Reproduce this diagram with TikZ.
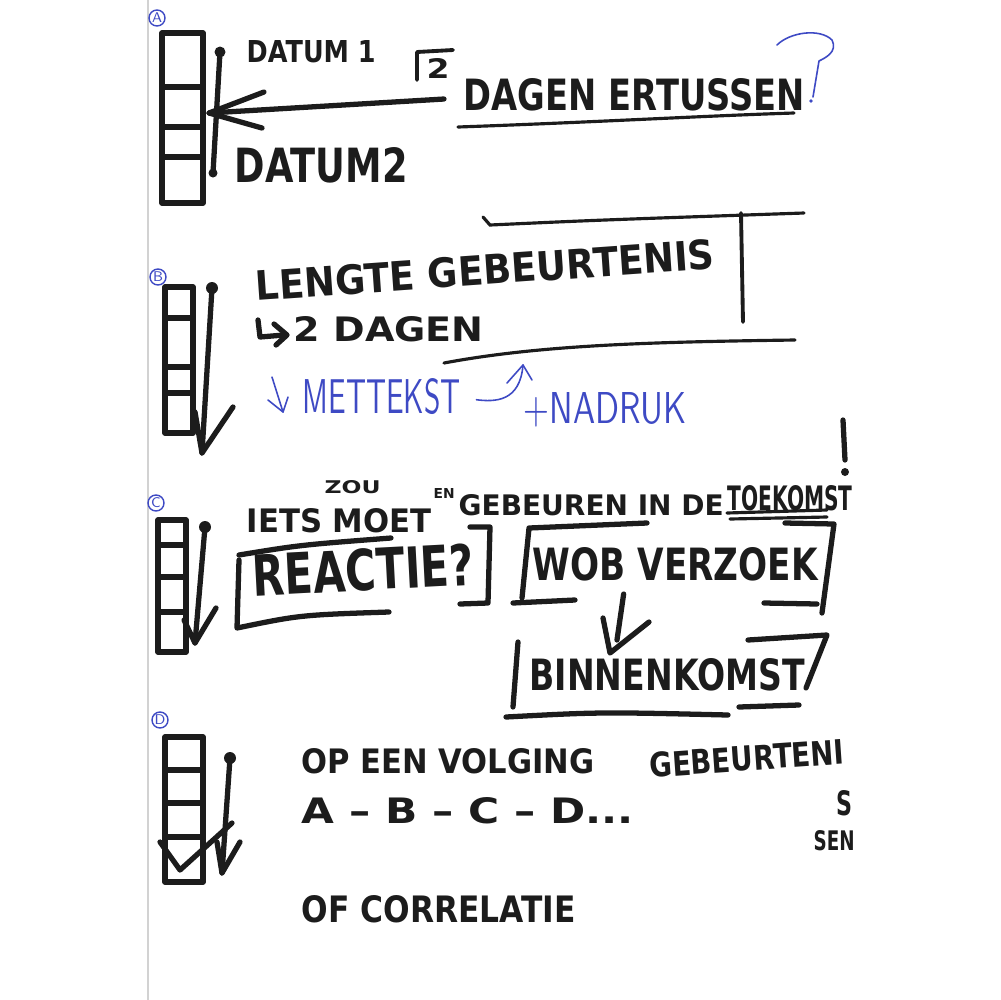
\documentclass[tikz,border=0pt]{standalone}
\usepackage{fontspec}
\setmainfont{DejaVu Sans}
\usepackage{graphicx}
\usetikzlibrary{calc}
\definecolor{marker}{RGB}{28,28,28}
\definecolor{ink}{RGB}{62,74,196}
\newlength{\pxl}
\setlength{\pxl}{0.1mm}
\newcommand{\fitbox}[3]{\resizebox{#1\pxl}{#2\pxl}{#3}}

\begin{document}
\begin{tikzpicture}[x=0.1mm, y=-0.1mm,
  pen/.style={draw=marker, line width=1.5pt, line cap=round, line join=round},
  thinpen/.style={draw=marker, line width=0.9pt, line cap=round},
  biro/.style={draw=ink, line width=0.45pt, line cap=round, line join=round},
  txt/.style={inner sep=0pt, anchor=north west, text=marker, font=\bfseries},
  note/.style={inner sep=0pt, anchor=north west, text=ink, font=\sffamily},
  sec/.style={circle, draw=ink, text=ink, line width=0.4pt, inner sep=0pt,
    minimum size=1.6mm, font=\sffamily\fontsize{4}{4}\selectfont}]
 \useasboundingbox (0,0) rectangle (1000,1000);
 \draw[gray!35, line width=0.6pt] (148,0) -- (148,1000);
 %
 % A: two dates
 \node[sec] (secA) at (157,18) {A};
 \draw[pen] (162,33) rectangle (203,203);
 \foreach \y in {87,127,157} \draw[pen] (162,\y) -- (203,\y);
 \coordinate (d1) at (220,52);
 \coordinate (d2) at (213,173);
 \draw[pen] (d1) -- (d2);
 \fill[marker] (d1) circle (5.5);
 \fill[marker] (d2) circle (4.5);
 \node[txt] (datum1) at (246,40) {\fitbox{129}{22}{DATUM 1}};
 \node[txt] (datum2) at (234,147) {\fitbox{173}{35}{DATUM2}};
 \node[txt] (two) at (426,58) {\fitbox{23}{20}{2}};
 \draw[pen, line width=1.1pt] (417,80) -- (417,52) -- (453,50);
 \node[txt] (dagen) at (463,78) {\fitbox{341}{32}{DAGEN ERTUSSEN}};
 \coordinate (tipA) at (209,113);
 \draw[pen] ($(dagen.west)+(-19,4)$) -- (tipA);
 \draw[pen] (264,92) -- (tipA) -- (262,128);
 \draw[thinpen] (458,127) .. controls (600,122) and (700,116) .. (794,113);
 \draw[biro] (777,45) .. controls (790,32) and (820,28) .. (832,40)
   .. controls (838,52) and (825,58) .. (819,61) -- (813,97);
 \fill[ink] (811,101) circle (1.8);
 %
 % B: length of event
 \node[sec] (secB) at (158,277) {B};
 \draw[pen] (165,287) rectangle (193,433);
 \foreach \y in {318,367,393} \draw[pen] (165,\y) -- (193,\y);
 \coordinate (d3) at (212,288);
 \coordinate (tipB) at (202,453);
 \draw[pen] (d3) -- (tipB);
 \fill[marker] (d3) circle (6);
 \draw[pen] (195,412) -- (tipB) -- (233,407);
 \draw[thinpen] (483,217) -- (490,225) .. controls (600,220) .. (804,213);
 \draw[pen, line width=1.1pt] (741,213) -- (743,322);
 \node[txt, anchor=center, rotate=4] (lengte) at (485,270) {\fitbox{460}{30}{LENGTE GEBEURTENIS}};
 \draw[pen] (258,320) -- (260,337) -- (284,335);
 \draw[pen] (274,324) -- (287,335) -- (276,345);
 \node[txt] (dagen2) at (293,316) {\fitbox{190}{25}{2 DAGEN}};
 \draw[thinpen] (444,363) .. controls (540,345) and (650,342) .. (795,340);
 \node[note] (met) at (302,378) {\fitbox{158}{35}{METTEKST}};
 \node[note] (nadruk) at (523,392) {\fitbox{163}{31}{+NADRUK}};
 \coordinate (metTip) at (283,412);
 \draw[biro] (272,377) -- (metTip);
 \draw[biro] (268,400) -- (metTip) -- (288,397);
 \coordinate (nadTip) at (523,365);
 \draw[biro] ($(met.east)+(15,3)$) .. controls (495,402) and (520,402) .. (nadTip);
 \draw[biro] (507,383) -- (nadTip) -- (532,380);
 %
 % C: something in the future
 \draw[pen] (843,420) -- (845,460);
 \fill[marker] (845,472) circle (4);
 \node[sec] (secC) at (156,503) {C};
 \draw[pen] (158,520) rectangle (186,652);
 \foreach \y in {545,577,612} \draw[pen] (158,\y) -- (186,\y);
 \coordinate (d4) at (205,527);
 \coordinate (tipC) at (195,643);
 \draw[pen] (d4) -- (tipC);
 \fill[marker] (d4) circle (6);
 \draw[pen] (184,620) -- (tipC) -- (216,608);
 \node[txt] (iets) at (246,508) {\fitbox{185}{24}{IETS MOET}};
 \node[txt] (zou) at (324,480) {\fitbox{56}{13}{ZOU}};
 \node[txt] (en) at (433,488) {\fitbox{21}{10}{EN}};
 \node[txt] (gebeuren) at (458,494) {\fitbox{265}{21}{GEBEUREN IN DE}};
 \node[txt] (toekomst) at (727,485) {\fitbox{125}{25}{TOEKOMST}};
 \draw[thinpen] (727,513) -- (827,510);
 \draw[thinpen] (730,519) -- (827,517);
 \node[txt, anchor=center, rotate=3] (reactie) at (363,570) {\fitbox{221}{42}{REACTIE?}};
 \draw[pen] (239,555) .. controls (300,545) .. (391,538);
 \draw[pen] (239,560) -- (237,628) .. controls (300,615) .. (389,612);
 \draw[pen] (470,527) -- (490,527) -- (488,603) -- (460,604);
 \node[txt] (wob) at (532,547) {\fitbox{285}{33}{WOB VERZOEK}};
 \draw[pen] (647,523) -- (529,528) -- (522,598);
 \draw[pen] (513,603) -- (575,600);
 \draw[pen] (785,523) -- (834,524) -- (822,613);
 \draw[pen] (764,603) -- (817,604);
 \coordinate (tipW) at (610,653);
 \draw[pen] ($(wob.south west)!0.32!(wob.south east)+(0,12)$) -- (617,640);
 \draw[pen] (603,618) -- (tipW) -- (649,622);
 \node[txt] (binnen) at (529,658) {\fitbox{275}{32}{BINNENKOMST}};
 \draw[pen] (518,642) -- (513,707);
 \draw[pen] (506,717) .. controls (600,712) .. (728,715);
 \draw[pen] (739,707) -- (799,705);
 \draw[pen] (748,640) -- (827,635) -- (806,688);
 %
 % D: sequence of events
 \node[sec] (secD) at (160,720) {D};
 \draw[pen] (165,737) rectangle (203,882);
 \foreach \y in {770,803,837} \draw[pen] (165,\y) -- (203,\y);
 \draw[pen] (160,842) -- (180,870) -- (232,823);
 \coordinate (d5) at (230,758);
 \coordinate (tipD) at (222,873);
 \draw[pen] (d5) -- (tipD);
 \fill[marker] (d5) circle (6);
 \draw[pen] (217,842) -- (tipD) -- (240,842);
 \node[txt] (opeen) at (301,748) {\fitbox{293}{25}{OP EEN VOLGING}};
 \node[txt, rotate=4] (gebeurt) at (648,752) {\fitbox{195}{25}{GEBEURTENI}};
 \node[txt] (gs) at (836,790) {\fitbox{16}{25}{S}};
 \node[txt] (sen) at (813,830) {\fitbox{41}{20}{SEN}};
 \node[txt] (abcd) at (301,797) {\fitbox{332}{26}{A – B – C – D...}};
 \node[txt] (corr) at (301,895) {\fitbox{274}{27}{OF CORRELATIE}};
\end{tikzpicture}
\end{document}
